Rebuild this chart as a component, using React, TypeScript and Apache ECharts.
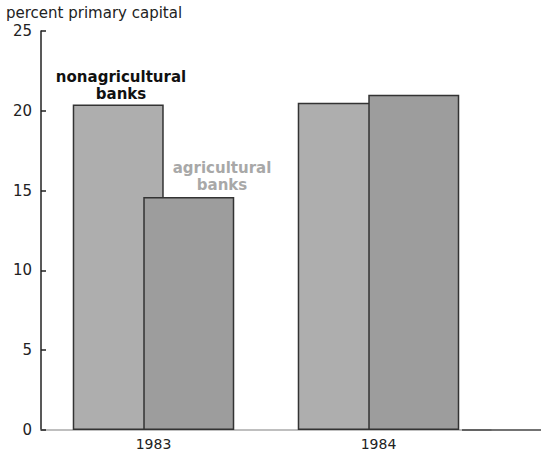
import React, { useEffect, useRef } from "react";
import * as echarts from "echarts";

const categories = ["1983", "1984"];
const nonagricultural = [20.4, 20.5];
const agricultural = [14.6, 21.0];
const yTicks = [0, 5, 10, 15, 20, 25];
const axisTitle = "percent primary capital";
const nonagLabel = "nonagricultural\nbanks";
const agLabel = "agricultural\nbanks";

const FONT = "'DejaVu Sans', Verdana, sans-serif";

export default function App() {
  const ref = useRef<HTMLDivElement>(null);
  useEffect(() => {
    if (!ref.current) return;
    const chart = echarts.init(ref.current, null, { renderer: "svg" });
    chart.setOption({
      animation: false,
      backgroundColor: "#ffffff",
      grid: { left: 41, right: 50, top: 31, bottom: 21, containLabel: false },
      xAxis: {
        type: "category",
        data: categories,
        axisLine: { show: true, lineStyle: { color: "#aaaaaa", width: 1.5 } },
        axisTick: { show: false },
        axisLabel: { color: "#222", fontSize: 14, fontFamily: FONT, margin: 7 },
      },
      yAxis: {
        type: "value",
        min: yTicks[0],
        max: yTicks[yTicks.length - 1],
        interval: 5,
        splitLine: { show: false },
        axisLine: { show: true, lineStyle: { color: "#222", width: 1.5 } },
        axisTick: { show: true, inside: true, length: 5, lineStyle: { color: "#222", width: 1.5 } },
        axisLabel: { color: "#222", fontSize: 15, fontFamily: FONT, margin: 9 },
      },
      series: [
        {
          type: "bar",
          name: "nonagricultural banks",
          data: nonagricultural,
          barWidth: 91,
          barGap: "-22.5%",
          itemStyle: { color: "#aeaeae", borderColor: "#333", borderWidth: 1.5 },
        },
        {
          type: "bar",
          name: "agricultural banks",
          data: agricultural,
          barWidth: 91,
          itemStyle: { color: "#9d9d9d", borderColor: "#333", borderWidth: 1.5 },
        },
      ],
      graphic: [
        {
          type: "text",
          left: 6,
          top: 5,
          style: { text: axisTitle, fill: "#222", font: `15px ${FONT}` },
        },
        {
          type: "text",
          x: 121,
          y: 85,
          style: {
            text: nonagLabel,
            fill: "#111",
            font: `bold 15px ${FONT}`,
            align: "center",
            verticalAlign: "middle",
            lineHeight: 17,
          },
        },
        {
          type: "text",
          x: 222,
          y: 176,
          style: {
            text: agLabel,
            fill: "#a8a8a8",
            font: `bold 15px ${FONT}`,
            align: "center",
            verticalAlign: "middle",
            lineHeight: 17,
          },
        },
        {
          type: "line",
          z: 100,
          shape: { x1: 462, y1: 430, x2: 541, y2: 430 },
          style: { stroke: "#444", lineWidth: 1.5 },
        },
      ],
    });
    return () => chart.dispose();
  }, []);
  return <div ref={ref} style={{ width: 541, height: 451, position: "absolute", left: 0, top: 0 }} />;
}
